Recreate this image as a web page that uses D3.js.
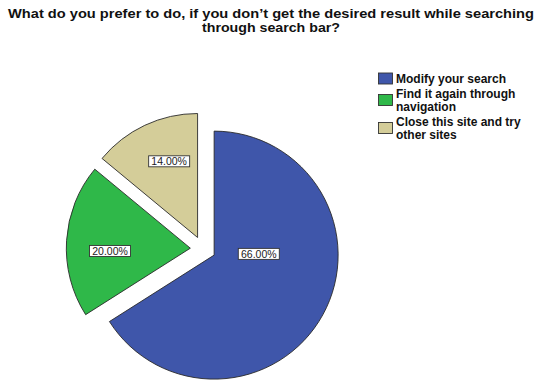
<!DOCTYPE html>
<html>
<head>
<meta charset="utf-8">
<script src="https://cdn.jsdelivr.net/npm/d3@7"></script>
<style>
  html, body { margin: 0; padding: 0; background: #ffffff; }
  svg { display: block; }
</style>
</head>
<body>
<svg id="chart" width="542" height="381"></svg>
<script>
// Survey answers and their shares (percent)
const categories = [
  "Modify your search",
  "Find it again through navigation",
  "Close this site and try other sites"
];
const values = [66, 20, 14];
const legendLines = [
  ["Modify your search"],
  ["Find it again through", "navigation"],
  ["Close this site and try", "other sites"]
];
const titleLines = [
  "What do you prefer to do, if you don\u2019t get the desired result while searching",
  "through search bar?"
];
const colors = ["#3f56aa", "#2fb849", "#d4cd99"];

const svg = d3.select("#chart");
const W = 542;

// Title, two centred lines
const title = svg.append("g")
  .attr("font-family", "'Liberation Sans', Arial, sans-serif")
  .attr("font-weight", "bold")
  .attr("font-size", 12.6)
  .attr("fill", "#111");
title.append("text").attr("x", W / 2).attr("y", 17.8)
  .attr("text-anchor", "middle")
  .attr("textLength", 526).attr("lengthAdjust", "spacingAndGlyphs")
  .text(titleLines[0]);
title.append("text").attr("x", W / 2).attr("y", 32)
  .attr("text-anchor", "middle")
  .attr("textLength", 138).attr("lengthAdjust", "spacingAndGlyphs")
  .text(titleLines[1]);

// Pie: starts at 12 o'clock, runs clockwise, every slice pulled out a little
const cx = 203, cy = 249, radius = 124, explode = 12.7;
const pie = d3.pie().sort(null).value(d => d).startAngle(0).endAngle(2 * Math.PI);
const arcs = pie(values);
const arc = d3.arc().innerRadius(0).outerRadius(radius);

const pieG = svg.append("g").attr("transform", `translate(${cx},${cy})`);

const slices = pieG.selectAll("g.slice")
  .data(arcs)
  .join("g")
  .attr("class", "slice")
  .attr("transform", d => {
    const a = (d.startAngle + d.endAngle) / 2;
    return `translate(${explode * Math.sin(a)},${-explode * Math.cos(a)})`;
  });

slices.append("path")
  .attr("d", arc)
  .attr("fill", (d, i) => colors[i])
  .attr("stroke", "#2a2a2a")
  .attr("stroke-width", 0.9)
  .attr("stroke-linejoin", "miter");

// Value labels: boxed percentages (angle clockwise from top, distance from the pie centre)
const labelPlace = [
  { angle: 95, dist: 56 },
  { angle: 268.8, dist: 93 },
  { angle: 338.9, dist: 94 }
];
const fmt = d3.format(".2f");
const labels = pieG.selectAll("g.vlabel")
  .data(arcs)
  .join("g")
  .attr("class", "vlabel")
  .attr("transform", (d, i) => {
    const a = labelPlace[i].angle * Math.PI / 180;
    const r = labelPlace[i].dist;
    return `translate(${r * Math.sin(a)},${-r * Math.cos(a)})`;
  });

labels.append("rect")
  .attr("x", -20.5).attr("y", -5.5)
  .attr("width", 41).attr("height", 11)
  .attr("fill", "#ffffff")
  .attr("stroke", "#333")
  .attr("stroke-width", 0.9);
labels.append("text")
  .attr("text-anchor", "middle")
  .attr("dy", "0.36em")
  .attr("font-family", "'Liberation Sans', Arial, sans-serif")
  .attr("font-size", 10.5)
  .attr("fill", "#222")
  .text(d => fmt(d.data) + "%");

// Legend
const legend = svg.append("g")
  .attr("font-family", "'Liberation Sans', Arial, sans-serif")
  .attr("font-weight", "bold")
  .attr("font-size", 12)
  .attr("fill", "#111");
const legendTop = [82.5, 97.5, 125.5];
const lineGap = 13;
categories.forEach((c, i) => {
  const lines = legendLines[i];
  const top = legendTop[i];
  const blockMid = top - 4 + (lines.length - 1) * lineGap / 2;
  legend.append("rect")
    .attr("x", 378.5).attr("y", blockMid - 5.5)
    .attr("width", 14).attr("height", 11)
    .attr("fill", colors[i])
    .attr("stroke", "#333")
    .attr("stroke-width", 0.9);
  lines.forEach((ln, j) => {
    legend.append("text")
      .attr("x", 396).attr("y", top + j * lineGap)
      .text(ln);
  });
});
</script>
</body>
</html>
